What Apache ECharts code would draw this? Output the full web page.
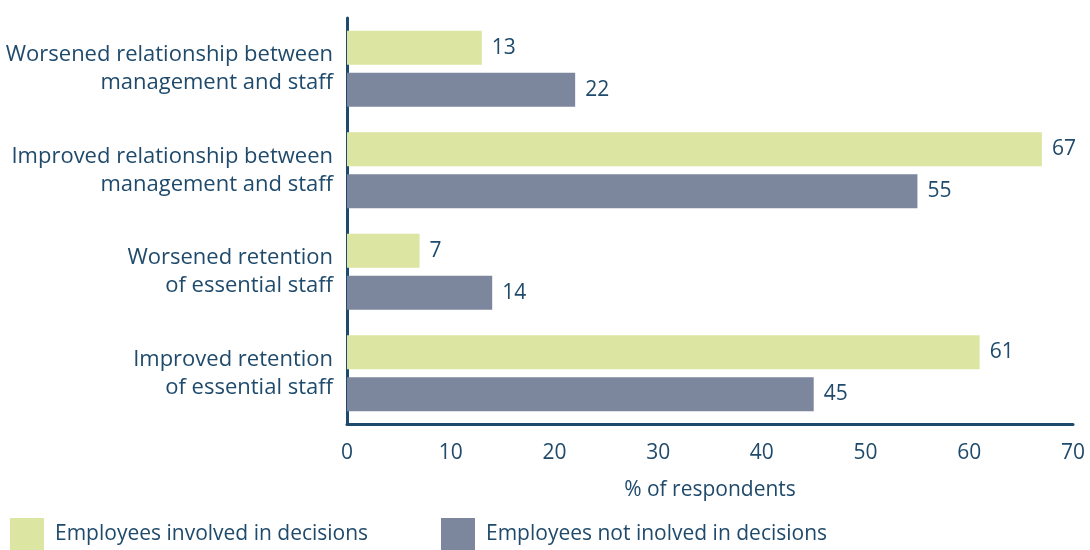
<!DOCTYPE html>
<html>
<head>
<meta charset="utf-8">
<script src="https://cdn.jsdelivr.net/npm/echarts@6/dist/echarts.min.js"></script>
<style>
  html, body { margin: 0; padding: 0; background: #fff; }
  #chart { width: 1090px; height: 550px; }
</style>
</head>
<body>
<div id="chart"></div>
<script>
// Survey outcomes, % of respondents
const categories = [
  'Worsened relationship between\nmanagement and staff',
  'Improved relationship between\nmanagement and staff',
  'Worsened retention\nof essential staff',
  'Improved retention\nof essential staff'
];
const involved = [13, 67, 7, 61];
const notInvolved = [22, 55, 14, 45];
const seriesNames = ['Employees involved in decisions', 'Employees not inolved in decisions'];
const xTicks = { min: 0, max: 70, interval: 10 };

const textColor = '#1f4a6b';
const axisColor = '#1d4b6c';
const font = '"Open Sans", "Noto Sans", sans-serif';

const chart = echarts.init(document.getElementById('chart'));

const valueLabel = {
  show: true,
  position: 'right',
  distance: 10,
  color: textColor,
  fontSize: 21,
  fontFamily: font
};

const legendText = {
  color: textColor, fontSize: 21, fontFamily: font,
  padding: [3, 0, 0, 6]
};

chart.setOption({
  animation: false,
  textStyle: { fontFamily: font },
  grid: { left: 347, right: 17, top: 18, bottom: 126 },
  legend: [
    {
      data: [seriesNames[0]],
      left: 10, top: 518, padding: 0,
      itemWidth: 34, itemHeight: 32,
      icon: 'rect',
      textStyle: legendText
    },
    {
      data: [seriesNames[1]],
      left: 441, top: 518, padding: 0,
      itemWidth: 34, itemHeight: 32,
      icon: 'rect',
      textStyle: legendText
    }
  ],
  xAxis: {
    type: 'value',
    min: xTicks.min, max: xTicks.max, interval: xTicks.interval,
    name: '% of respondents',
    nameLocation: 'middle',
    nameGap: 56,
    nameTextStyle: { color: textColor, fontSize: 21, fontFamily: font },
    axisLine: { show: true, lineStyle: { color: axisColor, width: 3 } },
    axisTick: { show: false },
    splitLine: { show: false },
    axisLabel: { color: textColor, fontSize: 21, fontFamily: font, margin: 19 }
  },
  yAxis: {
    type: 'category',
    data: categories,
    inverse: true,
    axisLine: { show: true, lineStyle: { color: axisColor, width: 3 } },
    axisTick: { show: false },
    axisLabel: {
      color: textColor, fontSize: 22, fontFamily: font,
      lineHeight: 28, margin: 14, align: 'right'
    }
  },
  series: [
    {
      name: seriesNames[0],
      type: 'bar',
      data: involved,
      barWidth: 34,
      barGap: '24%',
      itemStyle: { color: '#dce6a2' },
      label: valueLabel
    },
    {
      name: seriesNames[1],
      type: 'bar',
      data: notInvolved,
      barWidth: 34,
      barGap: '24%',
      itemStyle: { color: '#7c869c' },
      label: valueLabel
    }
  ]
});
</script>
</body>
</html>
